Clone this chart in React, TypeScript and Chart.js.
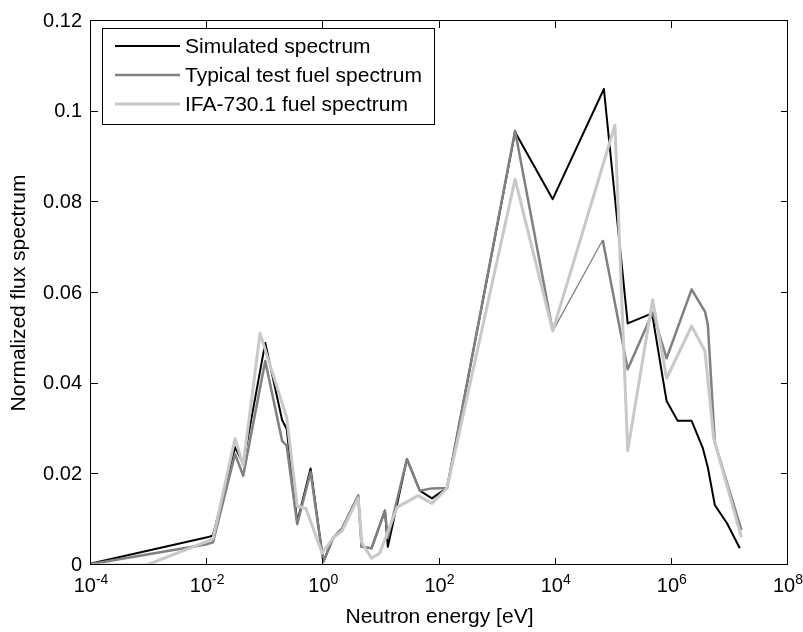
import React, { useEffect, useRef } from "react";
import { Chart, registerables } from "chart.js";

Chart.register(...registerables);

const FONT = '"Liberation Sans", Arial, Helvetica, sans-serif';

// Neutron energy [eV] and normalized flux for each spectrum
const simEnergy = [
  0.0001, 0.01, 0.0126, 0.0302, 0.0417, 0.1, 0.195, 0.234, 0.355, 0.603, 1.0,
  1.48, 2.09, 3.98, 4.57, 6.76, 11.5, 12.9, 27.5, 45.7, 74.1, 135, 2000, 8900,
  67600, 173800, 457000, 758600, 812800, 1260000, 2190000, 3390000, 4170000,
  5500000, 8910000, 14800000,
];
const simFlux = [
  0.0003, 0.0061, 0.0065, 0.026, 0.0224, 0.049, 0.032, 0.03, 0.0095, 0.0213,
  0.0007, 0.006, 0.008, 0.0153, 0.004, 0.0037, 0.012, 0.004, 0.0234, 0.0164,
  0.0147, 0.017, 0.0955, 0.0807, 0.105, 0.0533, 0.0555, 0.0384, 0.0362, 0.0318,
  0.0318, 0.0259, 0.0215, 0.0132, 0.0092, 0.0037,
];

const typEnergy = [
  0.0001, 0.01, 0.0126, 0.0302, 0.0417, 0.1, 0.195, 0.234, 0.355, 0.603, 1.0,
  1.48, 2.09, 3.98, 4.57, 6.76, 11.5, 12.9, 27.5, 45.7, 74.1, 135, 2000, 8900,
  64600, 173800, 467700, 812800, 2190000, 3720000, 4170000, 5500000, 15800000,
];
const typFlux = [
  0.0002, 0.0046, 0.005, 0.0245, 0.0197, 0.045, 0.0274, 0.0263, 0.009, 0.0205,
  0.0007, 0.006, 0.008, 0.0153, 0.004, 0.0037, 0.012, 0.006, 0.0234, 0.0164,
  0.0169, 0.017, 0.0958, 0.0516, 0.0717, 0.0432, 0.0557, 0.0456, 0.0608,
  0.0559, 0.053, 0.027, 0.0077,
];

const ifaEnergy = [
  0.0001, 0.00091, 0.01, 0.0126, 0.0302, 0.0417, 0.0813, 0.234, 0.355, 0.5,
  0.955, 1.48, 2.09, 3.98, 4.57, 6.76, 9.33, 18.6, 42.7, 74.1, 135, 2000, 8900,
  104700, 173800, 467700, 812800, 2190000, 3720000, 5250000, 15800000,
];
const ifaFlux = [
  0.0, 0.0, 0.0052, 0.0058, 0.0279, 0.022, 0.0511, 0.0325, 0.013, 0.0125,
  0.0026, 0.006, 0.0075, 0.0148, 0.005, 0.0015, 0.0026, 0.0127, 0.0153, 0.0136,
  0.017, 0.0851, 0.0516, 0.097, 0.0252, 0.0585, 0.0412, 0.0527, 0.0472, 0.028,
  0.0061,
];

const seriesLabels = [
  "Simulated spectrum",
  "Typical test fuel spectrum",
  "IFA-730.1 fuel spectrum",
];

const xTickValues = [1e-4, 1e-2, 1, 1e2, 1e4, 1e6, 1e8];
const xTickExponents = ["-4", "-2", "0", "2", "4", "6", "8"];
const yTickValues = [0, 0.02, 0.04, 0.06, 0.08, 0.1, 0.12];
const yTickLabels = ["0", "0.02", "0.04", "0.06", "0.08", "0.1", "0.12"];

const STYLE = {
  colors: ["#000000", "#808080", "#c8c8c8"],
  widths: [2, 2.5, 3],
};

function pts(xs: number[], ys: number[]) {
  return xs.map((x, i) => ({ x, y: ys[i] }));
}

const framePlugin = {
  id: "matlabFrame",
  afterDatasetsDraw(chart: any) {
    const { ctx, chartArea } = chart;
    const { left, right, top, bottom } = chartArea;
    const xs = chart.scales.x;
    const ys = chart.scales.y;
    ctx.save();
    ctx.strokeStyle = "#000";
    ctx.lineWidth = 1;
    ctx.strokeRect(Math.round(left) - 0.5, Math.round(top) - 0.5, Math.round(right - left), Math.round(bottom - top));
    const TL = 7;
    ctx.beginPath();
    xTickValues.forEach((v) => {
      const px = Math.round(xs.getPixelForValue(v)) - 0.5;
      ctx.moveTo(px, bottom);
      ctx.lineTo(px, bottom - TL);
      ctx.moveTo(px, top);
      ctx.lineTo(px, top + TL);
    });
    yTickValues.forEach((v) => {
      const py = Math.round(ys.getPixelForValue(v)) - 0.5;
      ctx.moveTo(left, py);
      ctx.lineTo(left + TL, py);
      ctx.moveTo(right, py);
      ctx.lineTo(right - TL, py);
    });
    ctx.stroke();

    // x tick labels: 10 with superscript exponent
    ctx.fillStyle = "#000";
    ctx.textBaseline = "alphabetic";
    ctx.textAlign = "left";
    xTickValues.forEach((v, i) => {
      const px = xs.getPixelForValue(v);
      ctx.font = `20px ${FONT}`;
      const wBase = ctx.measureText("10").width;
      ctx.font = `14px ${FONT}`;
      const wExp = ctx.measureText(xTickExponents[i]).width;
      const start = px - (wBase + wExp) / 2;
      ctx.font = `20px ${FONT}`;
      ctx.fillText("10", start, bottom + 27);
      ctx.font = `14px ${FONT}`;
      ctx.fillText(xTickExponents[i], start + wBase, bottom + 19);
    });

    // legend box
    const bx = 102.5, by = 28.5, bw = 332, bh = 96;
    ctx.fillStyle = "#fff";
    ctx.fillRect(bx, by, bw, bh);
    ctx.strokeStyle = "#000";
    ctx.lineWidth = 1;
    ctx.strokeRect(bx, by, bw, bh);
    const rows = [46, 75, 104];
    seriesLabels.forEach((lab, i) => {
      ctx.beginPath();
      ctx.strokeStyle = STYLE.colors[i];
      ctx.lineWidth = STYLE.widths[i];
      ctx.moveTo(115, rows[i]);
      ctx.lineTo(180, rows[i]);
      ctx.stroke();
      ctx.fillStyle = "#000";
      ctx.font = `21px ${FONT}`;
      ctx.textBaseline = "middle";
      ctx.fillText(lab, 185, rows[i] + 1);
    });
    ctx.restore();
  },
};

export default function App() {
  const canvasRef = useRef<HTMLCanvasElement | null>(null);

  useEffect(() => {
    if (!canvasRef.current) return;
    const datasets = [
      { data: pts(simEnergy, simFlux), order: 3 },
      { data: pts(typEnergy, typFlux), order: 2 },
      { data: pts(ifaEnergy, ifaFlux), order: 1 },
    ].map((d, i) => ({
      label: seriesLabels[i],
      data: d.data,
      order: d.order,
      borderColor: STYLE.colors[i],
      backgroundColor: STYLE.colors[i],
      borderWidth: STYLE.widths[i],
      pointRadius: 0,
      tension: 0,
      fill: false,
      borderJoinStyle: "round" as const,
      segment:
        i === 1
          ? {
              borderWidth: (c: any) =>
                c.p0.parsed.x === 8900 ? 1.3 : undefined,
            }
          : undefined,
    }));

    const chart = new Chart(canvasRef.current, {
      type: "line",
      data: { datasets },
      plugins: [framePlugin],
      options: {
        animation: false,
        responsive: false,
        maintainAspectRatio: false,
        layout: { padding: { top: 18, right: 15, left: 0, bottom: 0 } },
        plugins: {
          legend: { display: false },
          tooltip: { enabled: false },
        },
        scales: {
          x: {
            type: "logarithmic",
            min: 1e-4,
            max: 1e8,
            grid: { display: false, drawTicks: false },
            border: { display: false },
            afterBuildTicks: (scale: any) => {
              scale.ticks = xTickValues.map((value) => ({ value }));
            },
            afterFit: (scale: any) => {
              scale.height = 67;
            },
            ticks: {
              display: false,
              callback: (v: any, i: number) => "10^" + xTickExponents[i],
            },
            title: {
              display: true,
              text: "Neutron energy [eV]",
              color: "#000",
              font: { family: FONT, size: 21 },
              padding: { top: 0, bottom: 2 },
            },
          },
          y: {
            type: "linear",
            min: 0,
            max: 0.12,
            grid: { display: false, drawTicks: false },
            border: { display: false },
            afterBuildTicks: (scale: any) => {
              scale.ticks = yTickValues.map((value) => ({ value }));
            },
            afterFit: (scale: any) => {
              scale.width = 91;
            },
            ticks: {
              color: "#000",
              padding: 9,
              font: { family: FONT, size: 20 },
              callback: (v: any, i: number) => yTickLabels[i],
            },
            title: {
              display: true,
              text: "Normalized flux spectrum",
              color: "#000",
              font: { family: FONT, size: 21 },
              padding: { top: 7, bottom: 0 },
            },
          },
        },
      },
    });
    return () => chart.destroy();
  }, []);

  return (
    <div style={{ position: "fixed", left: 0, top: 0, width: 803, height: 632, background: "#fff" }}>
      <canvas ref={canvasRef} width={803} height={632} style={{ display: "block", width: 803, height: 632 }} />
    </div>
  );
}
